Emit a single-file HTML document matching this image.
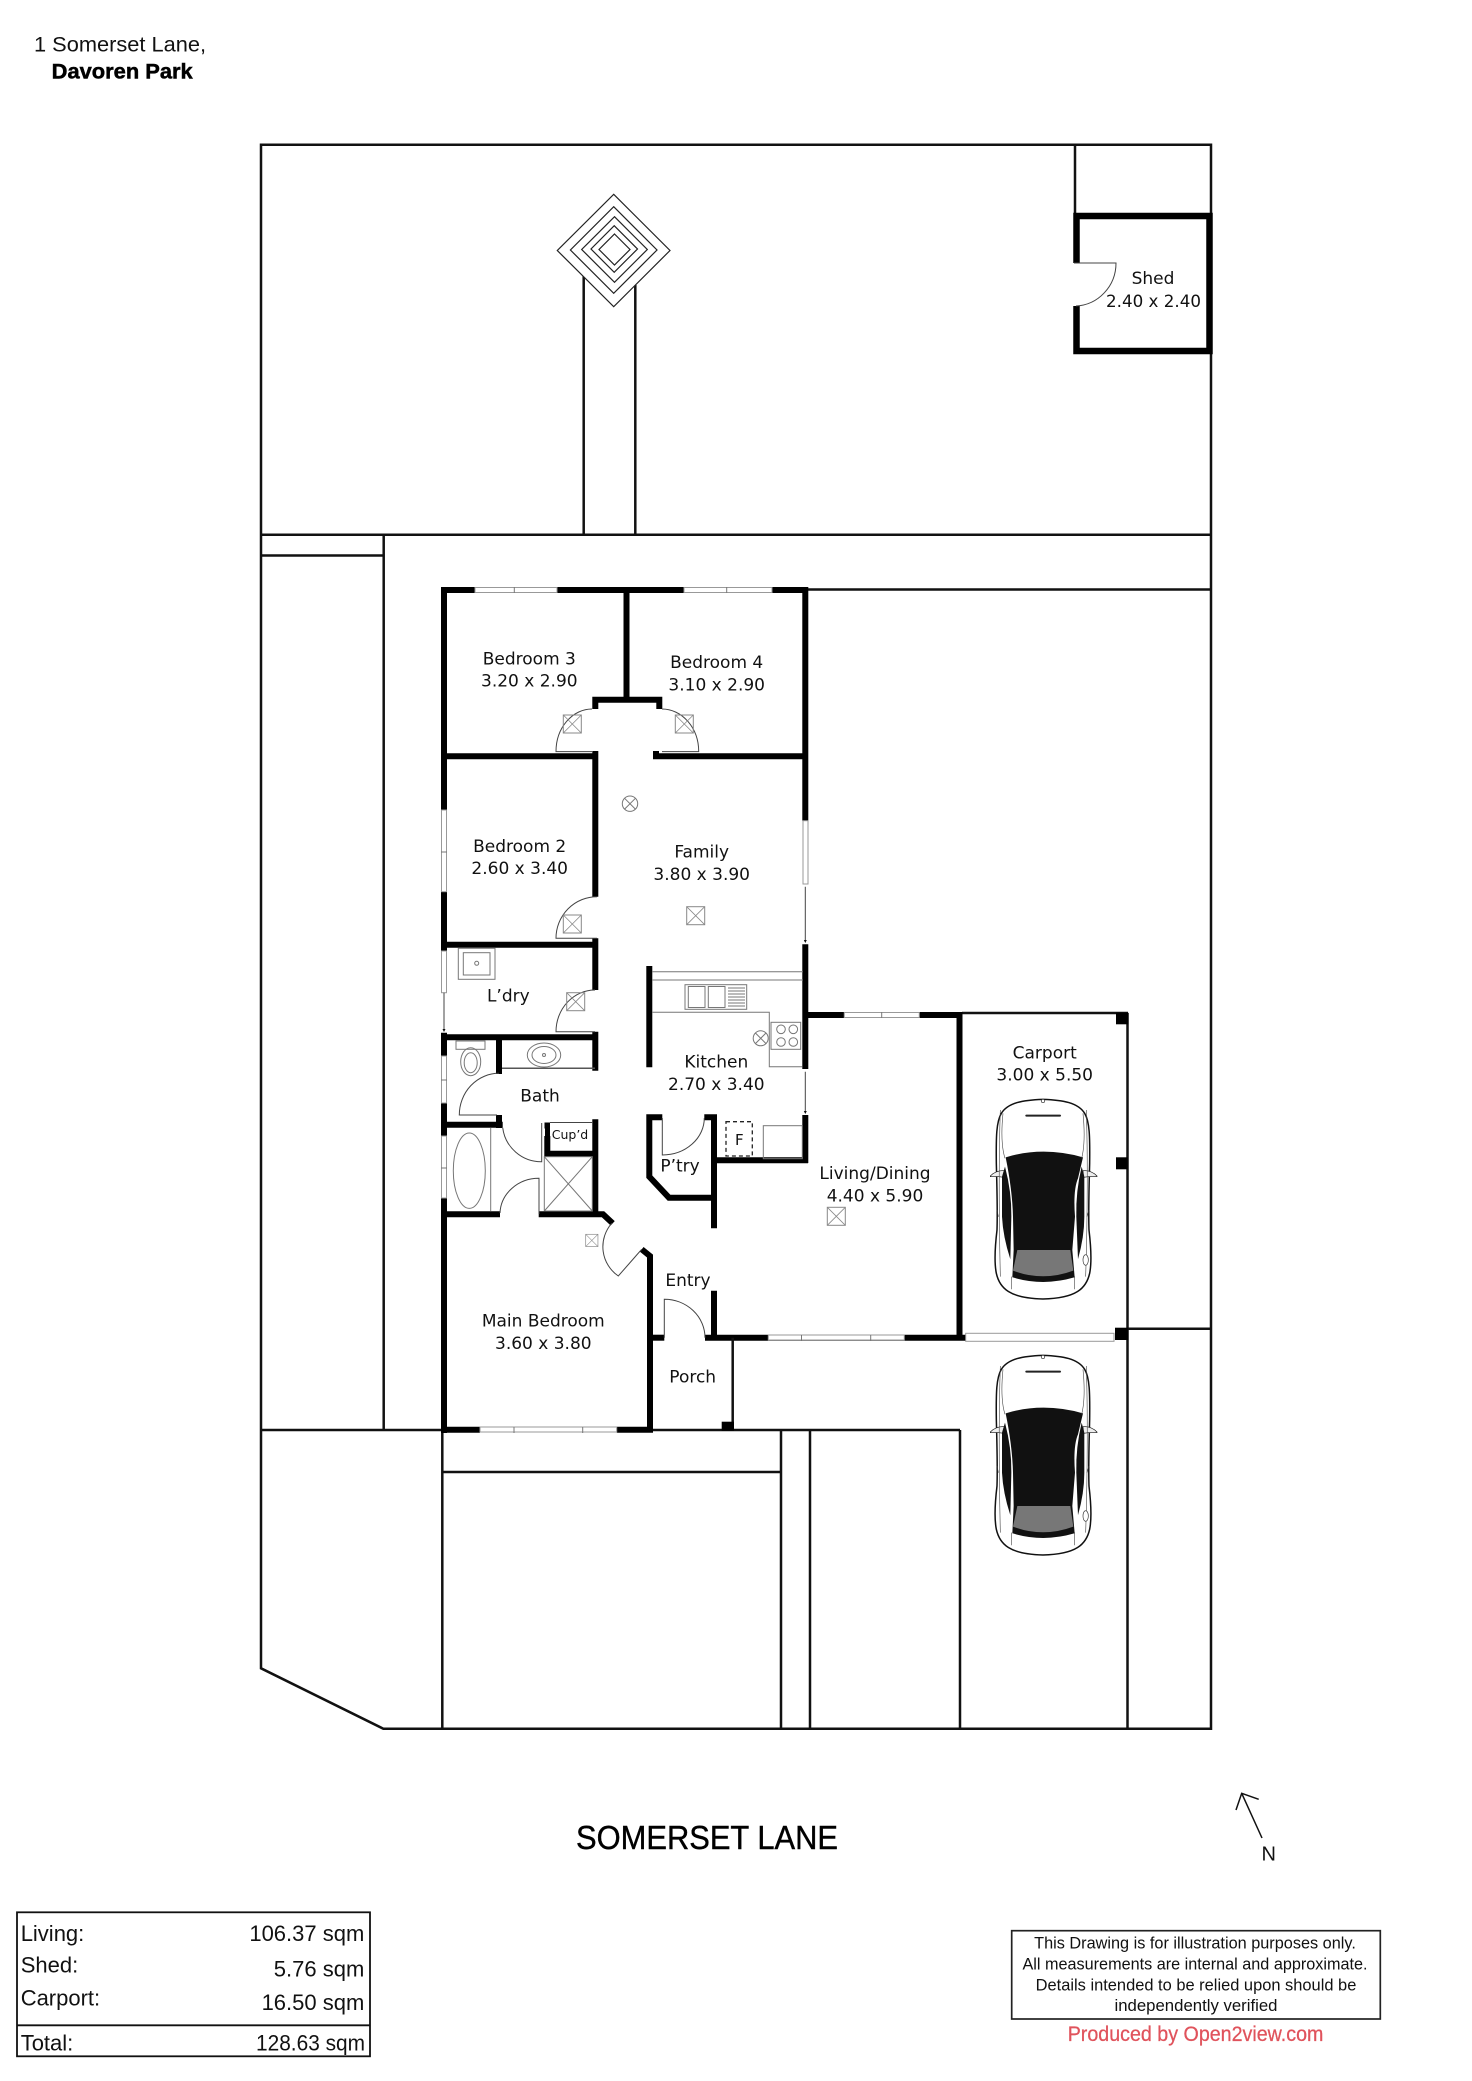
<!DOCTYPE html>
<html><head><meta charset="utf-8"><title>1 Somerset Lane floor plan</title>
<style>
html,body{margin:0;padding:0;background:#fff}
svg{display:block;position:absolute;left:0;top:0}
.w{stroke:#000;stroke-width:6;fill:none;stroke-linejoin:miter}
.b{stroke:#111;stroke-width:2.5;fill:none}
.t{stroke:#444;stroke-width:1;fill:none}
.g{stroke:#777;stroke-width:1;fill:none}
.win{fill:#fff;stroke:#999;stroke-width:1}
text{font-family:"DejaVu Sans",sans-serif;fill:#111}
.r{font-size:17px;text-anchor:middle}
.l{font-family:"Liberation Sans",sans-serif;font-size:22px}
.d{font-family:"Liberation Sans",sans-serif;font-size:17px;text-anchor:middle}
</style></head><body>
<svg width="1472" height="2081" viewBox="0 0 1472 2081" xmlns="http://www.w3.org/2000/svg">
<defs>
<g id="lt"><rect x="0" y="0" width="18" height="18" fill="none" stroke="#888" stroke-width="1"/><path d="M0 0L18 18M18 0L0 18" stroke="#888" stroke-width=".8"/></g>
<g id="car" transform="scale(.3333)">
<path d="M240 148C300 150 345 158 365 190C380 215 381 260 380 340C378 420 376 480 378 540C384 590 386 640 380 670C370 715 340 745 240 747C140 745 110 715 100 670C94 640 96 590 102 540C104 480 102 420 100 340C99 260 100 215 115 190C135 158 180 150 240 148Z" fill="#fff" stroke="#111" stroke-width="4.500"/>
<path d="M82 378Q100 360 125 362L122 382Q100 378 82 380Z" fill="#eee" stroke="#111" stroke-width="2"/>
<path d="M402 378Q384 360 360 362L362 382Q384 378 402 380Z" fill="#eee" stroke="#111" stroke-width="2"/>
<path d="M128 322Q240 288 360 322L345 385Q330 420 336 500L328 600L335 682Q240 710 148 682L152 600L150 500Q148 420 128 322Z" fill="#111"/>
<path d="M163 600L322 600L331 662Q240 696 150 662Z" fill="#777"/>
<path d="M117 380L126 350Q146 425 145 500L142 628Q120 560 117 500Z" fill="#111"/>
<path d="M364 380L356 350Q338 425 340 500L345 628Q364 560 364 500Z" fill="#111"/>
<path d="M190 197H291" stroke="#222" stroke-width="6" stroke-linecap="round"/>
<path d="M120 190C115 240 115 290 126 325M360 190C365 240 365 290 356 325M145 680L145 718M335 680L335 718M112 180C108 300 108 500 112 680M370 180C374 300 374 500 368 680" stroke="#444" stroke-width="1.800" fill="none"/>
<path d="M102 480L106 500M378 480L372 500" stroke="#333" stroke-width="2"/>
<ellipse cx="368" cy="630" rx="8" ry="16" fill="#fff" stroke="#333" stroke-width="2"/>
<circle cx="240" cy="153" r="5" fill="#fff" stroke="#333" stroke-width="2"/>
</g>
</defs>

<!-- Site boundary -->
<path class="b" d="M261 144.7H1211V1728.7H383.3L261 1668.3Z"/>
<path class="b" d="M261 534.7H1211M261 555.5H383.7M383.7 534.7V1430M261 1430H960M960 1430V1728.7M442.3 1430V1728.7M442.3 1472H781M781 1430V1728.7M810 1430V1728.7"/>
<path class="b" d="M806 589.5H1211M962 1013H1128M1127.5 1013V1728.7M1127.5 1328.7H1211M1075 144.7V216"/>
<!-- Garden path and feature -->
<path class="b" d="M583.7 276V534.7M635.3 285V534.7"/>
<path d="M613.7 194.3L670 250.5L613.7 306.7L557.3 250.5Z" fill="#fff" stroke="#222" stroke-width="1.2"/>
<path d="M613.7 206.7L657 250L613.7 293.3L570.4 250Z" fill="none" stroke="#222" stroke-width="1.2"/>
<path d="M614.5 216.7L647.3 249.5L614.5 282.3L581.7 249.5Z" fill="none" stroke="#222" stroke-width="1.2"/>
<path d="M614.2 225.7L637.5 249L614.2 272.3L591 249Z" fill="none" stroke="#222" stroke-width="1.2"/>
<path d="M614.5 234L630 249.5L614.5 265L599 249.5Z" fill="none" stroke="#222" stroke-width="1.2"/>

<!-- Shed -->
<path class="w" style="stroke-width:6.5" d="M1076.5 263V216H1209.5V351H1076.5V306"/>
<path class="t" d="M1074 263H1116A42 43 0 0 1 1076 306"/>

<!-- Exterior walls -->
<path class="w" d="M444 587V810M444 891.7V951M444 1032.7V1056M444 1103V1136M444 1198V1433"/>
<path class="w" d="M441 590H475M557 590H684M772 590H808"/>
<path class="w" d="M805.3 587V820.7M805.3 944.3V1069M805.3 1115V1163"/>
<path class="w" d="M441 1429.7H480M616.7 1429.7H653"/>
<path class="w" d="M808 1015H844.3M919.3 1015H962.3"/>
<path class="w" d="M959.5 1012V1340M768.3 1337.7H904.3M904.3 1337.7H965.7M705 1337.7H768.3"/>
<!-- Interior walls -->
<path class="w" d="M626.5 590V700"/>
<path class="w" d="M595.3 709V699.7H659.3V709"/>
<path class="w" d="M441 756.3H595.3M595.3 751V896.7M656 751V756.3H808"/>
<path class="w" d="M441 944.7H595.3M595.3 938.3V990"/>
<path class="w" d="M441 1037.3H595.3M595.3 1031.7V1070.7"/>
<path class="w" d="M499 1037V1074M499 1115V1128M441 1124.7H502.7"/>
<path class="w" d="M441 1214.3H500M538.7 1214.3H603L612.7 1223.3"/>
<path class="w" d="M595.3 1119.3V1214"/>
<path class="w" d="M547.3 1136V1153.7H595.3M544.5 1125.5H550"/>
<path class="w" style="stroke-width:5" d="M547.5 1123V1154"/>
<path class="t" d="M550 1122.5H593"/>
<path class="w" d="M641.7 1249.3L650 1256V1430"/>
<path class="w" d="M652 1337.7H664.3"/>
<path class="w" d="M714 1290.7V1337.7"/>
<path class="b" d="M732.7 1337.7V1430"/>
<rect x="721.7" y="1421.7" width="12.3" height="9" fill="#000"/>
<!-- Kitchen / pantry -->
<path class="w" d="M649.3 966V1067.3"/>
<path class="w" d="M662.3 1117.2H649.3V1176.7L669 1197.7H714M704.3 1117.2H714M714 1114.3V1228.3M711 1160.3H808"/>
<!-- Carport posts -->
<rect x="1116" y="1012.7" width="12.3" height="11.6" fill="#000"/>
<rect x="1116" y="1157.3" width="11.7" height="12" fill="#000"/>
<rect x="1115" y="1327.7" width="13.3" height="12.3" fill="#000"/>
<rect x="965.7" y="1333.3" width="148.3" height="8" fill="#fff" stroke="#999" stroke-width="1"/>

<!-- Windows -->
<g>
<rect class="win" x="475" y="587.5" width="82" height="5"/><path class="g" d="M514.3 587V593"/>
<rect class="win" x="684" y="587.5" width="88" height="5"/><path class="g" d="M726.7 587V593"/>
<rect class="win" x="441.5" y="810" width="5" height="81.7"/><path class="g" d="M441 852H447"/>
<rect class="win" x="441.5" y="951" width="5" height="41.7"/>
<rect class="win" x="441.5" y="1056" width="5" height="47"/><path class="g" d="M441 1080H447"/>
<rect class="win" x="441.5" y="1136" width="5" height="62"/><path class="g" d="M441 1168H447"/>
<rect class="win" x="803" y="820.7" width="5" height="63.3"/>
<rect class="win" x="480" y="1427" width="136.7" height="5"/><path class="g" d="M514 1427V1433M582.7 1427V1433"/>
<rect class="win" x="844.3" y="1012.5" width="75" height="5"/><path class="g" d="M881.7 1012V1018"/>
<rect class="win" x="768.3" y="1335" width="136" height="5"/><path class="g" d="M801.5 1335V1341M870.7 1335V1341"/>
<path class="t" d="M444 992.7V1030M805.3 886.7V940M805.3 1071.7V1112"/>
<path d="M442.5 1029h3l-1.5 3zM803.8 940h3l-1.5 3zM803.8 1111h3l-1.5 3z" fill="#111"/>
</g>

<!-- Doors -->
<g class="t">
<path d="M592 751.6H556A36 42.6 0 0 1 592 709"/>
<path d="M662 751.6H698.7A36.7 42.6 0 0 0 662 709"/>
<path d="M597 938.3H556A41 41.6 0 0 1 597 896.7"/>
<path d="M595 1031.7H556A39 41.7 0 0 1 595 990"/>
<path d="M497 1115H459.3A39.7 41.7 0 0 1 499 1073.3"/>
<path d="M541.7 1123V1161.7A39 38.7 0 0 1 502.7 1127.7"/>
<path d="M539 1214V1178.3A39 36 0 0 0 500 1213"/>
<path d="M662.3 1118V1155A42 37 0 0 0 704.3 1118"/>
<path d="M664.3 1337.7V1299.3A40.7 38.4 0 0 1 705 1337.7"/>
<path d="M641.7 1249.3L618.3 1276A35.5 35.5 0 0 1 611.7 1223.3"/>
</g>

<!-- Fixtures -->
<g class="g">
<use href="#lt" x="563.3" y="715"/>
<use href="#lt" x="675.3" y="715"/>
<use href="#lt" x="563.3" y="915"/>
<use href="#lt" x="566.7" y="992.7"/>
<use href="#lt" x="686.7" y="906.7"/>
<use href="#lt" x="827.3" y="1207.3"/>
<g transform="translate(585.7 1234.3) scale(.68)"><use href="#lt"/></g>
<circle cx="630" cy="803.7" r="7.7"/><path d="M624.6 798.3L635.4 809.1M635.4 798.3L624.6 809.1"/>
<circle cx="760.7" cy="1038.3" r="7.5"/><path d="M755.4 1033L766 1043.6M766 1033L755.4 1043.6"/>
<!-- laundry sink -->
<rect x="458.3" y="948.3" width="36.7" height="31"/><rect x="463.3" y="952.7" width="26.7" height="22.3"/><circle cx="476.7" cy="963.3" r="2"/>
<!-- toilet / basin -->
<rect x="456" y="1041" width="29" height="8.3"/><ellipse cx="470.7" cy="1061.7" rx="10" ry="14"/><ellipse cx="470.7" cy="1062.7" rx="6.5" ry="10"/>
<ellipse cx="544" cy="1055" rx="16.7" ry="12"/><ellipse cx="544" cy="1055" rx="12" ry="8.5"/><circle cx="544" cy="1055" r="1.5"/>
<path d="M502 1068.3H595" stroke="#555" stroke-width="1.5"/>
<!-- bath -->
<path d="M490.7 1128V1211"/><ellipse cx="469.3" cy="1170.7" rx="16" ry="37.7"/>
<!-- shower -->
<rect x="544.3" y="1156.7" width="48" height="54.3"/><path d="M544.3 1156.7L592.3 1211M592.3 1156.7L544.3 1211"/>
<!-- kitchen -->
<path d="M652 971.7H803M652 980H803M652 1012.3H769.3V1066.7H802.3"/>
<rect x="685" y="984.7" width="61.7" height="24.6"/><rect x="688.3" y="986.5" width="16.7" height="21"/><rect x="708.3" y="986.5" width="16.7" height="21"/>
<path d="M728 988H745M728 991H745M728 994H745M728 997H745M728 1000H745M728 1003H745M728 1006H745"/>
<rect x="771" y="1022.3" width="29.7" height="27"/>
<circle cx="781" cy="1029.3" r="4.3"/><circle cx="793.3" cy="1029.3" r="4.3"/><circle cx="781" cy="1042" r="4.3"/><circle cx="793.3" cy="1042" r="4.3"/>
<rect x="763.3" y="1125.7" width="39" height="33"/>
</g>
<rect x="726" y="1121.7" width="26.3" height="34.3" fill="none" stroke="#222" stroke-width="1.3" stroke-dasharray="4 3"/>

<!-- Cars -->
<use href="#car" x="963" y="1050"/>
<use href="#car" x="963" y="1306"/>

<!-- Room labels -->
<text class="r" x="529.3" y="664.3">Bedroom 3</text><text class="r" x="529.3" y="686.7">3.20 x 2.90</text>
<text class="r" x="716.7" y="668">Bedroom 4</text><text class="r" x="716.7" y="690.7">3.10 x 2.90</text>
<text class="r" x="519.7" y="852">Bedroom 2</text><text class="r" x="519.7" y="874">2.60 x 3.40</text>
<text class="r" x="701.7" y="857.3">Family</text><text class="r" x="701.7" y="880">3.80 x 3.90</text>
<text class="r" x="508.3" y="1001.7">L’dry</text>
<text class="r" x="540" y="1101.7">Bath</text>
<text x="570" y="1139" style="font-size:12.5px;text-anchor:middle">Cup’d</text>
<text class="r" x="716.3" y="1067.3">Kitchen</text><text class="r" x="716.3" y="1090">2.70 x 3.40</text>
<text class="r" x="680" y="1171.7">P’try</text>
<text x="739.3" y="1145" style="font-size:15px;text-anchor:middle">F</text>
<text class="r" x="688" y="1286">Entry</text>
<text class="r" x="543.3" y="1326.7">Main Bedroom</text><text class="r" x="543.3" y="1349">3.60 x 3.80</text>
<text class="r" x="692.7" y="1382.3">Porch</text>
<text class="r" x="875" y="1179">Living/Dining</text><text class="r" x="875" y="1201.3">4.40 x 5.90</text>
<text class="r" x="1044.7" y="1058.3">Carport</text><text class="r" x="1044.7" y="1080.7">3.00 x 5.50</text>
<text class="r" x="1153" y="284">Shed</text><text class="r" x="1153.5" y="307" textLength="95" lengthAdjust="spacingAndGlyphs">2.40 x 2.40</text>

<!-- Title -->
<text x="34" y="51.7" textLength="172" lengthAdjust="spacingAndGlyphs" style="font-family:'Liberation Sans',sans-serif;font-size:21.5px">1 Somerset Lane,</text>
<text x="51.7" y="78.3" textLength="141" lengthAdjust="spacingAndGlyphs" style="font-family:'Liberation Sans',sans-serif;font-size:21.7px;font-weight:700;fill:#000;stroke:#000;stroke-width:.5">Davoren Park</text>
<text x="576" y="1849" textLength="262" lengthAdjust="spacingAndGlyphs" style="font-family:'Liberation Sans',sans-serif;font-size:33.5px;fill:#000;stroke:#000;stroke-width:.4">SOMERSET LANE</text>

<!-- North arrow -->
<path d="M1262 1838L1241.7 1793.3M1236 1810L1241.7 1793.3L1258.7 1799.3" stroke="#111" stroke-width="1.5" fill="none"/>
<text x="1268.7" y="1860.7" style="font-family:'Liberation Sans',sans-serif;font-size:20px;text-anchor:middle">N</text>

<!-- Area table -->
<rect x="17" y="1912.3" width="353" height="144" fill="none" stroke="#111" stroke-width="1.8"/>
<path d="M17 2025.3H370" stroke="#111" stroke-width="1.8"/>
<text class="l" x="20.7" y="1941">Living:</text>
<text class="l" x="20.7" y="1972.7">Shed:</text>
<text class="l" x="20.7" y="2005.7">Carport:</text>
<text class="l" x="20.7" y="2050.7">Total:</text>
<text class="l" x="364.3" y="1941" text-anchor="end">106.37 sqm</text>
<text class="l" x="364.3" y="1976.7" text-anchor="end">5.76 sqm</text>
<text class="l" x="364.3" y="2010" text-anchor="end">16.50 sqm</text>
<text class="l" x="256" y="2050.7" textLength="109" lengthAdjust="spacingAndGlyphs">128.63 sqm</text>

<!-- Disclaimer -->
<rect x="1016" y="1939" width="370.700" height="88" fill="none" stroke="none"/>
<rect x="1016" y="1939" width="0" height="0" fill="none"/>
<rect x="1011.7" y="1930.7" width="368.6" height="88.3" fill="none" stroke="#222" stroke-width="1.7"/>
<text class="d" x="1195" y="1948.7" textLength="321.7" lengthAdjust="spacingAndGlyphs">This Drawing is for illustration purposes only.</text>
<text class="d" x="1195" y="1969.7" textLength="345" lengthAdjust="spacingAndGlyphs">All measurements are internal and approximate.</text>
<text class="d" x="1196" y="1990.3" textLength="320.7" lengthAdjust="spacingAndGlyphs">Details intended to be relied upon should be</text>
<text class="d" x="1196" y="2011" textLength="163" lengthAdjust="spacingAndGlyphs">independently verified</text>
<text x="1067.7" y="2041" textLength="255.7" lengthAdjust="spacingAndGlyphs" style="font-family:'Liberation Sans',sans-serif;font-size:21px;fill:#e0535c;stroke:#e0535c;stroke-width:.25">Produced by Open2view.com</text>
</svg>
</body></html>
